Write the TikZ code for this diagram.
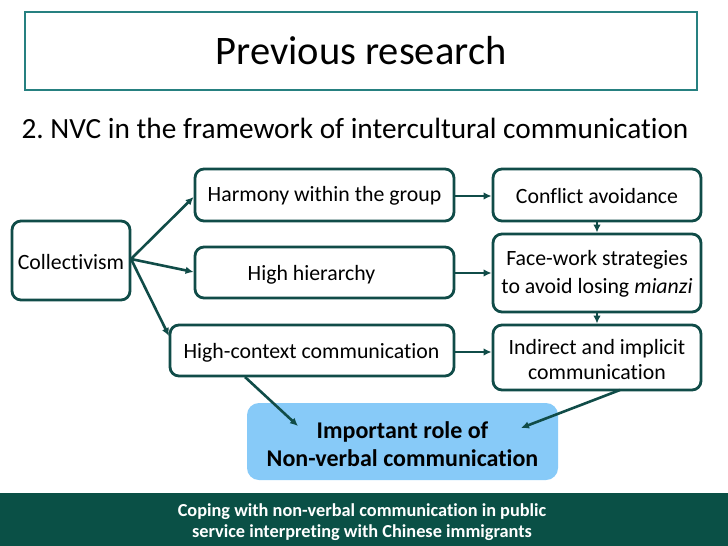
\documentclass[tikz,border=0pt]{standalone}
\usepackage{fontspec}
\setmainfont{Carlito}[Ligatures={NoCommon,NoRare}]
\usetikzlibrary{arrows.meta}
\definecolor{boxline}{RGB}{16,76,72}
\definecolor{titleline}{RGB}{38,128,128}
\definecolor{footer}{RGB}{10,80,70}
\definecolor{nvcfill}{RGB}{135,202,248}
\frenchspacing
\tikzset{
  box/.style={draw=boxline, line width=2.8pt, rounded corners=9pt, inner sep=0pt, fill=white},
  conn/.style={draw=boxline, line width=2.6pt, -{Latex[length=8pt,width=7.5pt]}},
  boxtext/.style={font=\fontsize{21.8}{28}\selectfont, align=center, inner sep=0pt},
}
\begin{document}
\begin{tikzpicture}[x=1pt,y=-1pt]
\useasboundingbox (0,0) rectangle (728,546);
\fill[white] (0,0) rectangle (728,546);
% title
\node[draw=titleline, line width=2.7pt, minimum width=672pt, minimum height=78pt, inner sep=0pt,
      font=\fontsize{40.5}{48}\selectfont] (title) at (361,51) {Previous research};
\node[font=\fontsize{29.3}{34}\selectfont, inner sep=0pt] (sub) at (355,128) {2. NVC in the framework of intercultural communication};
% boxes
\node[box, minimum width=118pt, minimum height=79pt] (coll) at (71,260.5) {};
\node[boxtext] (collt) at (71,262) {Collectivism};
\node[box, minimum width=259pt, minimum height=52pt] (harm) at (324.5,195) {};
\node[boxtext] (harmt) at (324.5,196) {Harmony within the group};
\node[box, minimum width=259pt, minimum height=51pt] (hier) at (324.5,272.5) {};
\node[boxtext] (hiert) at (311.5,275) {High hierarchy};
\node[box, minimum width=284pt, minimum height=51pt] (hctx) at (312,350.5) {};
\node[boxtext] (hctxt) at (311.5,353) {High-context communication};
\node[box, minimum width=208pt, minimum height=52pt] (conf) at (597,195) {};
\node[boxtext] (conft) at (597,196) {Conflict avoidance};
\node[box, minimum width=208pt, minimum height=78pt] (face) at (597,273) {};
\node[boxtext] (facet) at (597,274) {Face-work strategies\\to avoid losing \textit{mianzi}};
\node[box, minimum width=208pt, minimum height=65pt] (indi) at (597,357.5) {};
\node[boxtext, font=\fontsize{21.8}{25}\selectfont] (indit) at (597,359.5) {Indirect and implicit\\communication};
\node[fill=nvcfill, rounded corners=12pt, minimum width=311pt, minimum height=77pt, inner sep=0pt] (nvc) at (402.5,441.5) {};
\node[font=\fontsize{24}{28}\selectfont\bfseries, align=center, inner sep=0pt] (nvct) at (402.5,444) {Important role of\\Non-verbal communication};
% footer
\fill[footer] (0,493) rectangle (728,546);
\node[font=\fontsize{18.3}{21}\selectfont\bfseries, text=white, align=center, inner sep=0pt] (foot) at (362,522.5) {Coping with non-verbal communication in public\\service interpreting with Chinese immigrants};
% connectors
\coordinate (c0) at (131,259);
\draw[conn] (c0) -- (harm.west |- 0,197);
\draw[conn] (c0) -- (hier.west |- 0,272);
\draw[conn] (c0) -- (169,336);
\draw[conn] (harm.east |- 0,196) -- (conf.west |- 0,196);
\draw[conn] (hier.east |- 0,273) -- (face.west |- 0,273);
\draw[conn] (hctx.east |- 0,352) -- (indi.west |- 0,352);
\draw[conn] (conf.south) -- (face.north);
\draw[conn] (face.south) -- (indi.north);
\draw[conn] (245,377) -- (298,426);
\draw[conn] (620,390) -- (521,428);
\end{tikzpicture}
\end{document}
